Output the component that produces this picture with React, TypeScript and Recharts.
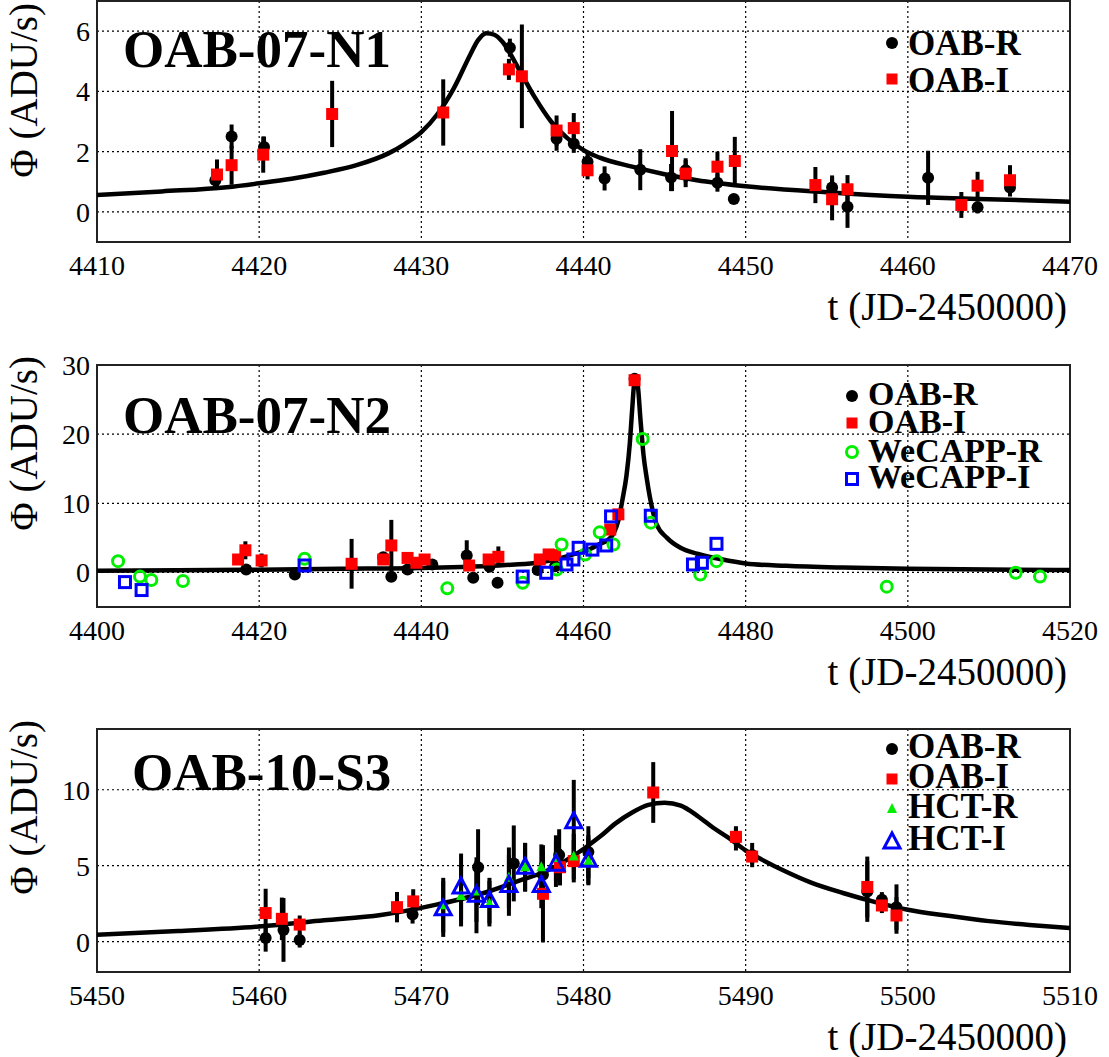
import React from 'react'
import {
  ComposedChart, Line, Scatter, ErrorBar, XAxis, YAxis, CartesianGrid, ReferenceArea
} from 'recharts'

const FONT = '"Liberation Serif", "Times New Roman", serif'

// ---------- OAB-07-N1 ----------
const n1XTicks = [4410, 4420, 4430, 4440, 4450, 4460, 4470]
const n1YTicks = [0, 2, 4, 6]
const n1Curve = [
  { t: 4410, phi: 0.56 }, { t: 4414, phi: 0.68 }, { t: 4418, phi: 0.82 }, { t: 4420, phi: 0.95 },
  { t: 4422, phi: 1.1 }, { t: 4424, phi: 1.3 }, { t: 4426, phi: 1.55 }, { t: 4428, phi: 1.95 },
  { t: 4429, phi: 2.26 }, { t: 4430, phi: 2.65 }, { t: 4431, phi: 3.25 }, { t: 4432, phi: 4.1 },
  { t: 4433, phi: 5.2 }, { t: 4433.5, phi: 5.7 }, { t: 4434, phi: 5.93 }, { t: 4434.5, phi: 5.88 },
  { t: 4435, phi: 5.65 }, { t: 4436, phi: 4.75 }, { t: 4437, phi: 3.8 }, { t: 4438, phi: 3.0 },
  { t: 4439, phi: 2.45 }, { t: 4440, phi: 2.05 }, { t: 4441, phi: 1.8 }, { t: 4443, phi: 1.5 },
  { t: 4445, phi: 1.25 }, { t: 4447, phi: 1.05 }, { t: 4450, phi: 0.85 }, { t: 4455, phi: 0.65 },
  { t: 4460, phi: 0.5 }, { t: 4465, phi: 0.42 }, { t: 4470, phi: 0.34 },
]
const n1OabR = [
  { t: 4417.3, phi: 1.05, e: 0.2 }, { t: 4418.3, phi: 2.5, e: 0.4 }, { t: 4420.3, phi: 2.15, e: 0.35 },
  { t: 4435.46, phi: 5.45, e: 0.3 }, { t: 4438.34, phi: 2.43, e: 0.4 }, { t: 4439.4, phi: 2.26, e: 0.3 },
  { t: 4440.25, phi: 1.66, e: 0.3 }, { t: 4441.3, phi: 1.11, e: 0.4 }, { t: 4443.5, phi: 1.4, e: 0.68 },
  { t: 4445.4, phi: 1.14, e: 0.45 }, { t: 4446.3, phi: 1.38, e: 0.4 }, { t: 4448.26, phi: 0.97, e: 0.3 },
  { t: 4449.27, phi: 0.43, e: 0.15 }, { t: 4455.33, phi: 0.81, e: 0.4 }, { t: 4456.28, phi: 0.17, e: 0.7 },
  { t: 4461.25, phi: 1.13, e: 0.9 }, { t: 4464.3, phi: 0.15, e: 0.2 }, { t: 4466.3, phi: 0.81, e: 0.3 },
]
const n1OabI = [
  { t: 4417.4, phi: 1.24, e: 0.5 }, { t: 4418.3, phi: 1.55, e: 0.65 }, { t: 4420.25, phi: 1.9, e: 0.6 },
  { t: 4424.5, phi: 3.25, e: 1.1 }, { t: 4431.35, phi: 3.3, e: 1.1 }, { t: 4435.4, phi: 4.73, e: 0.35 },
  { t: 4436.2, phi: 4.5, e: 1.72 }, { t: 4438.34, phi: 2.7, e: 0.5 }, { t: 4439.4, phi: 2.78, e: 0.5 },
  { t: 4440.25, phi: 1.38, e: 0.3 }, { t: 4445.46, phi: 2.02, e: 1.33 }, { t: 4446.3, phi: 1.27, e: 0.45 },
  { t: 4448.26, phi: 1.5, e: 0.5 }, { t: 4449.33, phi: 1.69, e: 0.8 }, { t: 4454.3, phi: 0.89, e: 0.6 },
  { t: 4455.33, phi: 0.42, e: 0.7 }, { t: 4456.28, phi: 0.75, e: 0.47 }, { t: 4463.3, phi: 0.23, e: 0.43 },
  { t: 4464.3, phi: 0.87, e: 0.46 }, { t: 4466.3, phi: 1.05, e: 0.5 },
]
const n1Legend = ['OAB-R', 'OAB-I']

// ---------- OAB-07-N2 ----------
const n2XTicks = [4400, 4420, 4440, 4460, 4480, 4500, 4520]
const n2YTicks = [0, 10, 20, 30]
const n2Curve = [
  { t: 4400, phi: 0.25 }, { t: 4410, phi: 0.3 }, { t: 4420, phi: 0.4 }, { t: 4430, phi: 0.52 },
  { t: 4440, phi: 0.65 }, { t: 4445, phi: 0.8 }, { t: 4450, phi: 1.05 }, { t: 4454, phi: 1.35 },
  { t: 4457, phi: 2.0 }, { t: 4459, phi: 2.7 }, { t: 4461, phi: 3.5 }, { t: 4462, phi: 4.1 },
  { t: 4463, phi: 4.7 }, { t: 4463.7, phi: 5.6 }, { t: 4464.3, phi: 7.5 }, { t: 4464.8, phi: 10.5 },
  { t: 4465.3, phi: 14 }, { t: 4465.7, phi: 18.5 }, { t: 4466.0, phi: 23.5 }, { t: 4466.25, phi: 27.3 },
  { t: 4466.45, phi: 28.0 }, { t: 4466.7, phi: 27.0 }, { t: 4467.0, phi: 22.5 }, { t: 4467.4, phi: 17 },
  { t: 4467.8, phi: 13.6 }, { t: 4468.6, phi: 8.6 }, { t: 4469.0, phi: 7.0 }, { t: 4470.3, phi: 5.0 },
  { t: 4471.9, phi: 3.6 }, { t: 4474, phi: 2.7 }, { t: 4477, phi: 1.9 }, { t: 4480, phi: 1.3 },
  { t: 4485, phi: 0.95 }, { t: 4492, phi: 0.7 }, { t: 4500, phi: 0.55 }, { t: 4510, phi: 0.42 },
  { t: 4520, phi: 0.34 },
]
const n2OabR = [
  { t: 4418.4, phi: 0.43, e: 0 }, { t: 4424.4, phi: -0.3, e: 0 }, { t: 4435.3, phi: 2.2, e: 0 },
  { t: 4436.3, phi: -0.62, e: 0 }, { t: 4438.3, phi: 0.43, e: 0 }, { t: 4441.35, phi: 1.15, e: 0 },
  { t: 4445.6, phi: 2.45, e: 2.2 }, { t: 4446.4, phi: -0.77, e: 0 }, { t: 4448.4, phi: 0.82, e: 0 },
  { t: 4449.4, phi: -1.5, e: 0 }, { t: 4454.35, phi: 0.34, e: 0 }, { t: 4456.5, phi: 0.9, e: 0 },
  { t: 4466.3, phi: 28.0, e: 0 },
]
const n2OabI = [
  { t: 4417.4, phi: 1.87, e: 0.4 }, { t: 4418.3, phi: 3.2, e: 1.3 }, { t: 4420.3, phi: 1.73, e: 1.0 },
  { t: 4431.4, phi: 1.25, e: 3.6 }, { t: 4435.3, phi: 1.87, e: 0.5 }, { t: 4436.3, phi: 3.9, e: 3.7 },
  { t: 4438.3, phi: 2.1, e: 0.4 }, { t: 4439.4, phi: 1.4, e: 0 }, { t: 4440.4, phi: 1.87, e: 0 },
  { t: 4445.9, phi: 1.0, e: 0 }, { t: 4448.3, phi: 1.87, e: 0 }, { t: 4449.5, phi: 2.26, e: 1.5 },
  { t: 4454.6, phi: 1.87, e: 0 }, { t: 4455.7, phi: 2.6, e: 0 }, { t: 4456.5, phi: 2.5, e: 0 },
  { t: 4463.3, phi: 6.2, e: 0 }, { t: 4464.3, phi: 8.4, e: 0 }, { t: 4466.3, phi: 27.8, e: 0 },
]
const n2WecappR = [
  { t: 4402.6, phi: 1.63 }, { t: 4405.3, phi: -0.6 }, { t: 4406.7, phi: -1.1 }, { t: 4410.6, phi: -1.25 },
  { t: 4425.6, phi: 1.97 }, { t: 4443.2, phi: -2.3 }, { t: 4452.5, phi: -1.5 }, { t: 4456.7, phi: 0.43 },
  { t: 4457.3, phi: 4.04 }, { t: 4460.2, phi: 2.6 }, { t: 4462.0, phi: 5.8 }, { t: 4463.7, phi: 4.04 },
  { t: 4467.3, phi: 19.3 }, { t: 4468.3, phi: 7.2 }, { t: 4474.4, phi: -0.3 }, { t: 4476.4, phi: 1.63 },
  { t: 4497.4, phi: -2.06 }, { t: 4513.3, phi: -0.05 }, { t: 4516.3, phi: -0.6 },
]
const n2WecappI = [
  { t: 4403.45, phi: -1.4 }, { t: 4405.5, phi: -2.55 }, { t: 4425.6, phi: 1.0 }, { t: 4452.5, phi: -0.6 },
  { t: 4455.4, phi: -0.05 }, { t: 4457.9, phi: 1.15 }, { t: 4458.75, phi: 1.87 }, { t: 4459.4, phi: 3.56 },
  { t: 4461.1, phi: 3.3 }, { t: 4462.8, phi: 3.9 }, { t: 4463.4, phi: 8.1 }, { t: 4468.3, phi: 8.2 },
  { t: 4473.5, phi: 1.15 }, { t: 4474.6, phi: 1.4 }, { t: 4476.4, phi: 4.14 },
]
const n2Legend = ['OAB-R', 'OAB-I', 'WeCAPP-R', 'WeCAPP-I']

// ---------- OAB-10-S3 ----------
const s3XTicks = [5450, 5460, 5470, 5480, 5490, 5500, 5510]
const s3YTicks = [0, 5, 10]
const s3Curve = [
  { t: 5450, phi: 0.46 }, { t: 5455, phi: 0.7 }, { t: 5460, phi: 1.0 }, { t: 5464, phi: 1.4 },
  { t: 5467.5, phi: 1.75 }, { t: 5471, phi: 2.45 }, { t: 5474, phi: 3.25 }, { t: 5476, phi: 4.0 },
  { t: 5477.5, phi: 4.55 }, { t: 5479, phi: 5.4 }, { t: 5480, phi: 6.1 }, { t: 5481, phi: 6.9 },
  { t: 5482, phi: 7.8 }, { t: 5483, phi: 8.5 }, { t: 5484, phi: 9.0 }, { t: 5485, phi: 9.15 },
  { t: 5486, phi: 8.95 }, { t: 5487, phi: 8.3 }, { t: 5488, phi: 7.5 }, { t: 5489, phi: 6.8 },
  { t: 5490, phi: 6.0 }, { t: 5491, phi: 5.4 }, { t: 5492.5, phi: 4.6 }, { t: 5494, phi: 3.9 },
  { t: 5496, phi: 3.2 }, { t: 5498, phi: 2.6 }, { t: 5500, phi: 2.1 }, { t: 5502.5, phi: 1.7 },
  { t: 5505, phi: 1.35 }, { t: 5507.5, phi: 1.1 }, { t: 5510, phi: 0.9 },
]
const s3OabR = [
  { t: 5460.4, phi: 0.24, e: 0.9 }, { t: 5461.5, phi: 0.77, e: 2.1 }, { t: 5462.5, phi: 0.11, e: 0.5 },
  { t: 5469.46, phi: 1.79, e: 0.6 }, { t: 5473.5, phi: 4.9, e: 2.5 }, { t: 5475.7, phi: 5.15, e: 2.5 },
  { t: 5477.5, phi: 4.4, e: 1.5 }, { t: 5478.5, phi: 5.7, e: 1.7 }, { t: 5480.3, phi: 5.9, e: 1.7 },
  { t: 5489.4, phi: 6.8, e: 0.8 }, { t: 5490.4, phi: 5.7, e: 0.8 }, { t: 5497.5, phi: 3.3, e: 2 },
  { t: 5498.4, phi: 2.76, e: 0.5 }, { t: 5499.3, phi: 2.27, e: 1.5 },
]
const s3OabI = [
  { t: 5460.4, phi: 1.88, e: 1.6 }, { t: 5461.4, phi: 1.5, e: 1.4 }, { t: 5462.5, phi: 1.12, e: 0.6 },
  { t: 5468.5, phi: 2.27, e: 1.0 }, { t: 5469.5, phi: 2.65, e: 0.8 }, { t: 5477.5, phi: 3.15, e: 3.2 },
  { t: 5478.55, phi: 4.9, e: 1.2 }, { t: 5479.4, phi: 5.3, e: 1.4 }, { t: 5484.3, phi: 9.82, e: 2 },
  { t: 5489.4, phi: 6.9, e: 0.6 }, { t: 5490.4, phi: 5.6, e: 0.5 }, { t: 5497.5, phi: 3.6, e: 2 },
  { t: 5498.4, phi: 2.38, e: 0.5 }, { t: 5499.3, phi: 1.72, e: 1.2 },
]
const s3HctR = [
  { t: 5471.35, phi: 2.4, e: 1.8 }, { t: 5472.45, phi: 3.0, e: 2 }, { t: 5473.4, phi: 3.3, e: 2 },
  { t: 5474.2, phi: 2.5, e: 1.5 }, { t: 5475.4, phi: 4.2, e: 2 }, { t: 5476.4, phi: 4.9, e: 1.6 },
  { t: 5477.4, phi: 4.9, e: 1.5 }, { t: 5478.3, phi: 5.5, e: 1.5 }, { t: 5479.4, phi: 5.6, e: 1.5 },
  { t: 5480.3, phi: 5.3, e: 1.5 },
]
const s3HctI = [
  { t: 5471.35, phi: 2.16, e: 1.85 }, { t: 5472.45, phi: 3.6, e: 2.2 }, { t: 5473.4, phi: 3.05, e: 2.5 },
  { t: 5474.2, phi: 2.7, e: 1.5 }, { t: 5475.4, phi: 3.7, e: 2 }, { t: 5476.4, phi: 4.9, e: 1.6 },
  { t: 5477.4, phi: 3.7, e: 1.5 }, { t: 5478.3, phi: 5.1, e: 1.5 }, { t: 5479.4, phi: 7.9, e: 2.75 },
  { t: 5480.3, phi: 5.36, e: 1.65 },
]
const s3Legend = ['OAB-R', 'OAB-I', 'HCT-R', 'HCT-I']

// marker shapes
const blackDot = (p: any) => <circle cx={p.cx} cy={p.cy} r={6} fill="#000" />
const redSquare = (p: any) => <rect x={p.cx - 6} y={p.cy - 6} width={12} height={12} fill="#ff0000" />
const greenRing = (p: any) => <circle cx={p.cx} cy={p.cy} r={5.5} fill="none" stroke="#00ee00" strokeWidth={3} />
const blueBox = (p: any) => (
  <rect x={p.cx - 5.5} y={p.cy - 5.5} width={11} height={11} fill="none" stroke="#0000ff" strokeWidth={3} />
)
const greenTri = (p: any) => (
  <polygon points={`${p.cx},${p.cy - 6} ${p.cx - 5},${p.cy + 4} ${p.cx + 5},${p.cy + 4}`} fill="#00ee00" />
)
const blueTri = (p: any) => (
  <polygon
    points={`${p.cx},${p.cy - 9} ${p.cx - 8},${p.cy + 6} ${p.cx + 8},${p.cy + 6}`}
    fill="none" stroke="#0000ff" strokeWidth={3} strokeLinejoin="miter"
  />
)
const smallSquare = (p: any) => <rect x={p.cx - 5.5} y={p.cy - 5.5} width={11} height={11} fill="#ff0000" />

const tickStyle = { fontSize: 28, fill: '#000', fontFamily: FONT }

type Series = { name: string; data: any[]; shape: any; bars: boolean }

function Panel({ top, height, marginTop, plotH, xDomain, xTicks, yDomain, yTicks, curve, series }: any) {
  const marginBottom = height - marginTop - plotH - 30
  return (
    <div style={{ position: 'absolute', left: 0, top, width: 1109, height }}>
      <ComposedChart
        width={1109}
        height={height}
        margin={{ top: marginTop, right: 39, left: 0, bottom: marginBottom }}
        style={{ fontFamily: FONT }}
      >
        <CartesianGrid stroke="#000" strokeWidth={1.2} strokeDasharray="2 3" />
        <XAxis
          type="number" dataKey="t" domain={xDomain} ticks={xTicks} allowDataOverflow
          interval={0} tickLine={false} axisLine={false} tickSize={0} tickMargin={13}
          height={30} tick={tickStyle}
        />
        <YAxis
          type="number" dataKey="phi" domain={yDomain} ticks={yTicks} allowDataOverflow
          interval={0} tickLine={false} axisLine={false} tickSize={0} tickMargin={7}
          width={97} tick={tickStyle}
        />
        <Line
          data={curve} dataKey="phi" type="monotone" stroke="#000" strokeWidth={4.5}
          dot={false} isAnimationActive={false}
        />
        {series.map((s: Series) => (
          <Scatter key={s.name} name={s.name} data={s.data} shape={s.shape} isAnimationActive={false}>
            {s.bars && <ErrorBar dataKey="e" direction="y" width={0} strokeWidth={4} stroke="#000" />}
          </Scatter>
        ))}
        <ReferenceArea
          x1={xDomain[0]} x2={xDomain[1]} y1={yDomain[0]} y2={yDomain[1]}
          fill="none" stroke="#222" strokeWidth={2} fillOpacity={0}
        />
      </ComposedChart>
    </div>
  )
}

function LegendBox({ x, textX, markerYs, baselines, labels, shapes, size }: any) {
  return (
    <g>
      {labels.map((label: string, i: number) => (
        <g key={label}>
          {shapes[i]({ cx: x, cy: markerYs[i] })}
          <text x={textX} y={baselines[i]} fontSize={size} fontWeight="bold" fontFamily={FONT} fill="#000">
            {label}
          </text>
        </g>
      ))}
    </g>
  )
}

export default function App() {
  const titleProps = { fontSize: 53, fontWeight: 'bold', fontFamily: FONT, fill: '#000' }
  const axisLabel = { fontSize: 39, fontFamily: FONT, fill: '#000' }
  return (
    <div style={{ position: 'relative', width: 1109, height: 1057, background: '#fff', fontFamily: FONT }}>
      <style>{`body{margin:0} svg text{font-family:${FONT}}`}</style>
      <Panel
        top={0} height={340} marginTop={1} plotH={241}
        xDomain={[4410, 4470]} xTicks={n1XTicks} yDomain={[-1, 7]} yTicks={n1YTicks} curve={n1Curve}
        series={[
          { name: 'OAB-R', data: n1OabR, shape: blackDot, bars: true },
          { name: 'OAB-I', data: n1OabI, shape: redSquare, bars: true },
        ]}
      />
      <Panel
        top={340} height={350} marginTop={25} plotH={242}
        xDomain={[4400, 4520]} xTicks={n2XTicks} yDomain={[-5, 30]} yTicks={n2YTicks} curve={n2Curve}
        series={[
          { name: 'OAB-R', data: n2OabR, shape: blackDot, bars: true },
          { name: 'OAB-I', data: n2OabI, shape: redSquare, bars: true },
          { name: 'WeCAPP-R', data: n2WecappR, shape: greenRing, bars: false },
          { name: 'WeCAPP-I', data: n2WecappI, shape: blueBox, bars: false },
        ]}
      />
      <Panel
        top={690} height={367} marginTop={39} plotH={243}
        xDomain={[5450, 5510]} xTicks={s3XTicks} yDomain={[-2, 14]} yTicks={s3YTicks} curve={s3Curve}
        series={[
          { name: 'OAB-R', data: s3OabR, shape: blackDot, bars: true },
          { name: 'OAB-I', data: s3OabI, shape: redSquare, bars: true },
          { name: 'HCT-R', data: s3HctR, shape: greenTri, bars: true },
          { name: 'HCT-I', data: s3HctI, shape: blueTri, bars: true },
        ]}
      />
      <svg
        width={1109} height={1057}
        style={{ position: 'absolute', left: 0, top: 0, pointerEvents: 'none' }}
      >
        <text x={123} y={67} {...titleProps}>OAB-07-N1</text>
        <text x={123} y={433} {...titleProps}>OAB-07-N2</text>
        <text x={132} y={790} {...titleProps}>OAB-10-S3</text>

        {[320, 685, 1050].map((y) => (
          <text key={y} x={1067} y={y} textAnchor="end" {...axisLabel}>t (JD-2450000)</text>
        ))}
        {[3, 356, 720].map((y) => (
          <text key={y} transform={`translate(37, ${y}) rotate(-90)`} textAnchor="end" {...axisLabel}>
            Φ (ADU/s)
          </text>
        ))}

        <LegendBox
          x={892} textX={908} markerYs={[43, 79]} baselines={[55, 92]} size={35}
          labels={n1Legend} shapes={[blackDot, smallSquare]}
        />
        <LegendBox
          x={852} textX={868} markerYs={[396, 423, 452, 479]} baselines={[405, 433, 462, 488]} size={34}
          labels={n2Legend} shapes={[blackDot, smallSquare, greenRing, blueBox]}
        />
        <LegendBox
          x={892} textX={908} markerYs={[749, 779, 809, 842]} baselines={[758, 788, 818, 850]} size={35}
          labels={s3Legend} shapes={[blackDot, smallSquare, greenTri, blueTri]}
        />
      </svg>
    </div>
  )
}
